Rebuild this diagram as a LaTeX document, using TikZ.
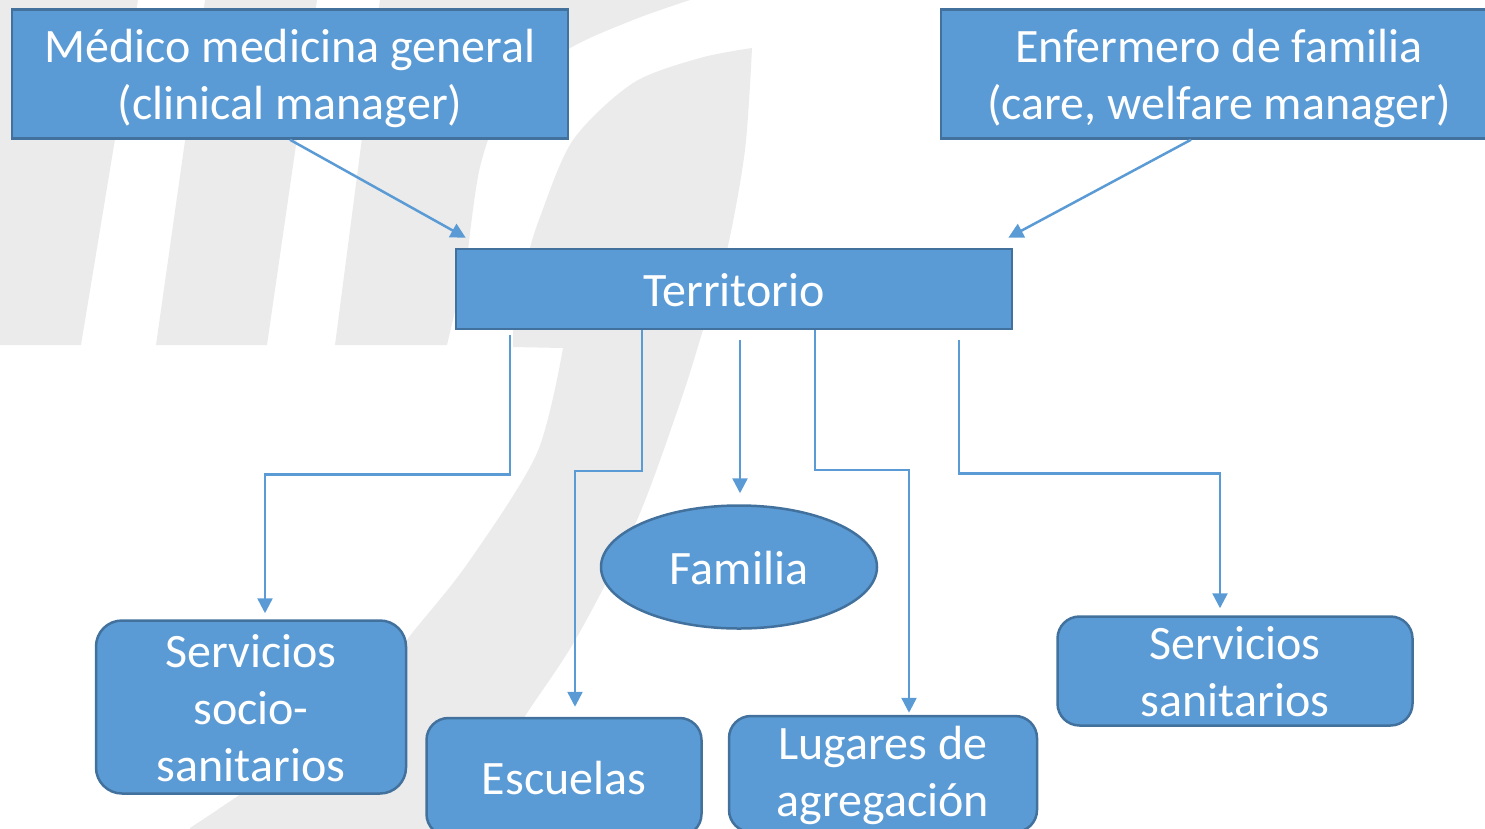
\documentclass[tikz,border=0pt]{standalone}
\usepackage{fontspec}
\setmainfont{Carlito}
\usetikzlibrary{arrows.meta,shapes.geometric}
\definecolor{boxblue}{HTML}{5B9BD5}
\definecolor{boxline}{HTML}{41719C}
\definecolor{wmgray}{HTML}{EBEBEB}
\newcommand{\boxstrut}{\rule[-12pt]{0pt}{58.6pt}}
\newcommand{\tstrut}[1][46.6pt]{\rule{0pt}{#1}}

\begin{document}
\begin{tikzpicture}[x=1pt, y=-1pt,
  box/.style={draw=boxline, line width=2.5pt, fill=boxblue, text=white, align=center,
    font=\fontsize{48}{57}\selectfont, inner sep=0pt,
    execute at begin node=\boxstrut, execute at end node=\boxstrut},
  rbox/.style={box, rounded corners=22pt},
  conn/.style={draw=boxblue, line width=2.5pt, -{Triangle[length=15pt,width=15pt]}}]
  \useasboundingbox (0,0) rectangle (1485,828);
  \clip (0,0) rectangle (1485,828);

  % watermark
  \fill[wmgray] (-60,0) -- (138,0) -- (81,345) -- (-60,345) -- cycle;
  \fill[wmgray] (205,0) -- (317,0) -- (267,345) -- (156,345) -- cycle;
  \fill[wmgray] (380,0) -- plot[smooth] coordinates {(690,0) (633,20) (567,50) (507,100) (480,167) (467,260)}
    -- (447,345) -- (335,345) -- cycle;
  \fill[wmgray] plot[smooth] coordinates {(752,48) (745,150) (727,250) (703,330) (680,403) (637,520) (577,637) (527,713) (450,828)}
    -- (450,840) -- (190,840) -- plot[smooth] coordinates {(190,828) (333,727) (417,627) (470,560) (537,453) (563,348)}
    -- (513,347) -- plot[smooth] coordinates {(513,330) (527,260) (540,217) (573,140) (633,83) (700,58) (752,48)} -- cycle;

  \node[box, minimum width=556pt, minimum height=129pt] (med) at (290,74) {\tstrut Médico medicina general\\(clinical manager)};
  \node[box, minimum width=556pt, minimum height=129pt] (enf) at (1219,74) {\tstrut Enfermero de familia\\(care, welfare manager)};
  \node[box, minimum width=556pt, minimum height=80pt] (ter) at (734,289) {Territorio};
  \node[box, ellipse, minimum width=276pt, minimum height=123pt] (fam) at (739,567) {Familia};
  \node[rbox, rounded corners=26pt, minimum width=310pt, minimum height=173pt] (sss) at (251,707) {\tstrut Servicios\\socio-\\sanitarios};
  \node[rbox, minimum width=275pt, minimum height=118pt] (esc) at (564,777) {Escuelas};
  \node[rbox, minimum width=308pt, minimum height=116pt] (lug) at (883,774) {\tstrut[40.6pt]Lugares de\\agregación};
  \node[rbox, inner ysep=-5pt, minimum width=355pt, minimum height=109pt] (ssan) at (1235,671) {\tstrut Servicios\\sanitarios};

  \draw[conn] (med.south) -- ([xshift=11pt,yshift=10pt]ter.north west);
  \draw[conn] ([xshift=-28pt]enf.south) -- ([xshift=-5pt,yshift=10pt]ter.north east);
  \draw[conn] ([xshift=55pt,yshift=-5pt]ter.south west) |- ([xshift=14pt,yshift=145pt]sss.north) -- ([xshift=14pt,yshift=6pt]sss.north);
  \draw[conn] ([xshift=187pt]ter.south west) |- ([xshift=11pt,yshift=246pt]esc.north) -- ([xshift=11pt,yshift=10pt]esc.north);
  \draw[conn] ([xshift=6pt,yshift=-10pt]ter.south) -- ([xshift=1pt,yshift=11pt]fam.north);
  \draw[conn] ([xshift=360pt]ter.south west) |- ([xshift=26pt,yshift=245pt]lug.north) -- ([xshift=26pt,yshift=2pt]lug.north);
  \draw[conn] ([xshift=504pt,yshift=-10pt]ter.south west) |- ([xshift=-15pt,yshift=142pt]ssan.north) -- ([xshift=-15pt,yshift=7pt]ssan.north);
\end{tikzpicture}
\end{document}
